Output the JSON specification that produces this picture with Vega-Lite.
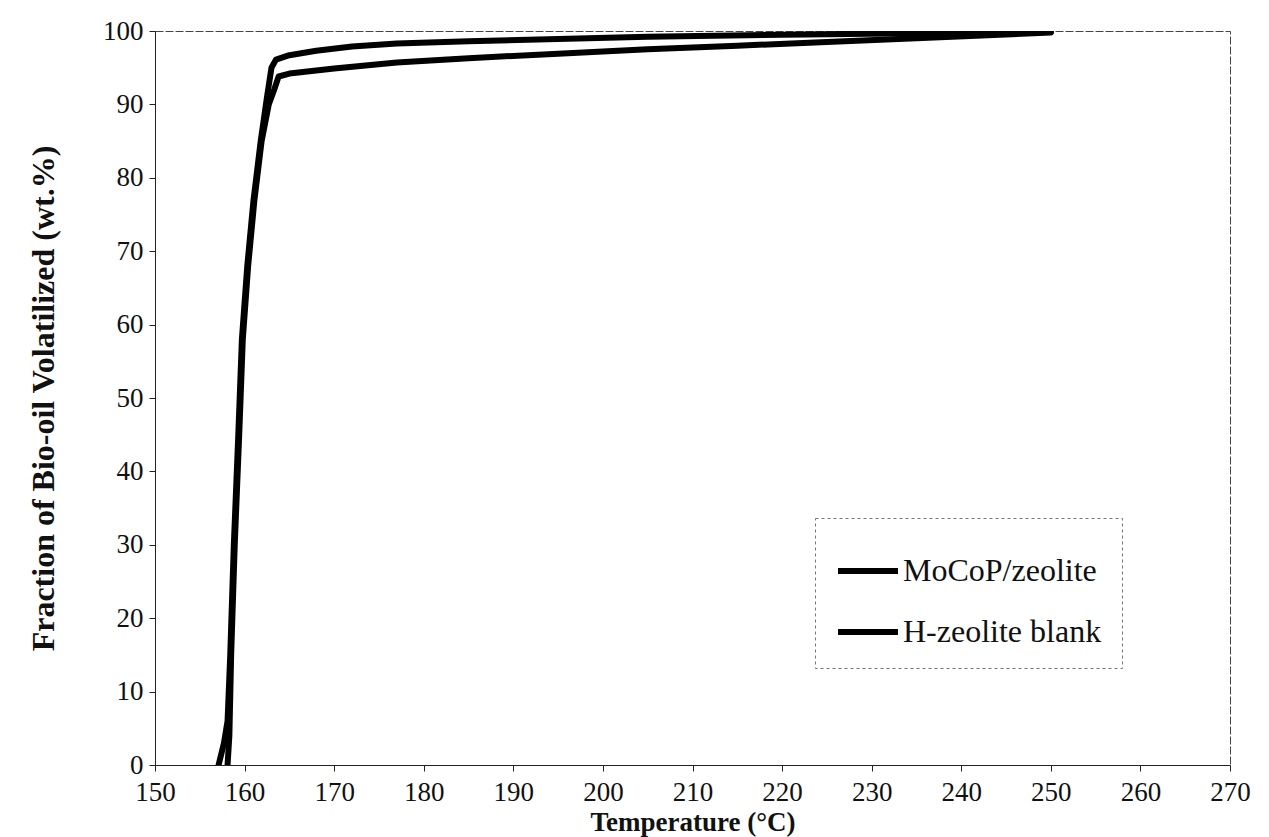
{
  "$schema": "https://vega.github.io/schema/vega-lite/v6.json",
  "autosize": {"type": "none"},
  "width": 1075,
  "height": 734,
  "padding": {"left": 155, "top": 31, "right": 39, "bottom": 72},
  "background": "white",
  "config": {
    "font": "Liberation Serif",
    "view": {"stroke": "#444444", "strokeWidth": 1, "strokeDash": [8, 2]},
    "axis": {
      "labelFont": "Liberation Serif",
      "labelFontSize": 27,
      "labelColor": "#111111",
      "labelFlush": false,
      "titleFont": "Liberation Serif",
      "titleFontSize": 27,
      "titleFontWeight": "bold",
      "titleColor": "#111111",
      "domainColor": "#222222",
      "tickColor": "#222222",
      "grid": false,
      "tickSize": 6
    },
    "legend": {
      "labelFont": "Liberation Serif",
      "labelFontSize": 32,
      "labelColor": "#111111",
      "strokeDash": [3, 3],
      "strokeWidth": 1
    }
  },
  "data": {
    "values": [
      {"series": "MoCoP/zeolite", "t": 157.1, "f": 0},
      {"series": "MoCoP/zeolite", "t": 157.7, "f": 3},
      {"series": "MoCoP/zeolite", "t": 158.1, "f": 6},
      {"series": "MoCoP/zeolite", "t": 158.4, "f": 15},
      {"series": "MoCoP/zeolite", "t": 158.8, "f": 30},
      {"series": "MoCoP/zeolite", "t": 159.3, "f": 45},
      {"series": "MoCoP/zeolite", "t": 159.7, "f": 58},
      {"series": "MoCoP/zeolite", "t": 160.3, "f": 68},
      {"series": "MoCoP/zeolite", "t": 161.0, "f": 77},
      {"series": "MoCoP/zeolite", "t": 161.8, "f": 85},
      {"series": "MoCoP/zeolite", "t": 162.5, "f": 91},
      {"series": "MoCoP/zeolite", "t": 163.0, "f": 95},
      {"series": "MoCoP/zeolite", "t": 163.5, "f": 96.1},
      {"series": "MoCoP/zeolite", "t": 165, "f": 96.7},
      {"series": "MoCoP/zeolite", "t": 168, "f": 97.3},
      {"series": "MoCoP/zeolite", "t": 172, "f": 97.9},
      {"series": "MoCoP/zeolite", "t": 177, "f": 98.3},
      {"series": "MoCoP/zeolite", "t": 185, "f": 98.6},
      {"series": "MoCoP/zeolite", "t": 195, "f": 98.9},
      {"series": "MoCoP/zeolite", "t": 205, "f": 99.2},
      {"series": "MoCoP/zeolite", "t": 220, "f": 99.5},
      {"series": "MoCoP/zeolite", "t": 235, "f": 99.7},
      {"series": "MoCoP/zeolite", "t": 250, "f": 99.9},
      {"series": "H-zeolite blank", "t": 158.1, "f": 0},
      {"series": "H-zeolite blank", "t": 158.3, "f": 4},
      {"series": "H-zeolite blank", "t": 158.5, "f": 15},
      {"series": "H-zeolite blank", "t": 158.9, "f": 30},
      {"series": "H-zeolite blank", "t": 159.4, "f": 45},
      {"series": "H-zeolite blank", "t": 159.8, "f": 58},
      {"series": "H-zeolite blank", "t": 160.4, "f": 68},
      {"series": "H-zeolite blank", "t": 161.1, "f": 77},
      {"series": "H-zeolite blank", "t": 161.9, "f": 85},
      {"series": "H-zeolite blank", "t": 162.7, "f": 90},
      {"series": "H-zeolite blank", "t": 163.3, "f": 92},
      {"series": "H-zeolite blank", "t": 163.8, "f": 93.8},
      {"series": "H-zeolite blank", "t": 165, "f": 94.2},
      {"series": "H-zeolite blank", "t": 170, "f": 94.9},
      {"series": "H-zeolite blank", "t": 177, "f": 95.7},
      {"series": "H-zeolite blank", "t": 185, "f": 96.3},
      {"series": "H-zeolite blank", "t": 195, "f": 96.9},
      {"series": "H-zeolite blank", "t": 205, "f": 97.5},
      {"series": "H-zeolite blank", "t": 215, "f": 98.0},
      {"series": "H-zeolite blank", "t": 225, "f": 98.5},
      {"series": "H-zeolite blank", "t": 235, "f": 99.0},
      {"series": "H-zeolite blank", "t": 250, "f": 99.8}
    ]
  },
  "mark": {"type": "line", "strokeWidth": 6, "strokeCap": "round", "strokeJoin": "round", "clip": true},
  "encoding": {
    "x": {
      "field": "t",
      "type": "quantitative",
      "scale": {"domain": [150, 270], "nice": false, "zero": false},
      "axis": {"values": [150,160,170,180,190,200,210,220,230,240,250,260,270], "title": "Temperature (°C)", "labelPadding": 8, "titlePadding": 4, "format": "d"}
    },
    "y": {
      "field": "f",
      "type": "quantitative",
      "scale": {"domain": [0, 100], "nice": false},
      "axis": {"values": [0,10,20,30,40,50,60,70,80,90,100], "title": "Fraction of Bio-oil Volatilized (wt.%)", "labelPadding": 6, "titlePadding": 42, "titleFontSize": 32}
    },
    "color": {
      "field": "series",
      "type": "nominal",
      "sort": ["MoCoP/zeolite", "H-zeolite blank"],
      "scale": {"domain": ["MoCoP/zeolite", "H-zeolite blank"], "range": ["#000000", "#000000"]},
      "legend": {
        "title": null,
        "orient": "none",
        "legendX": 660,
        "legendY": 487,
        "symbolType": "stroke",
        "symbolSize": 3600,
        "symbolStrokeWidth": 6,
        "symbolStrokeColor": "#000000",
        "rowPadding": 12,
        "padding": 20,
        "strokeColor": "#777777",
        "fillColor": "white",
        "labelOffset": 2,
        "labelLimit": 400
      }
    }
  }
}
